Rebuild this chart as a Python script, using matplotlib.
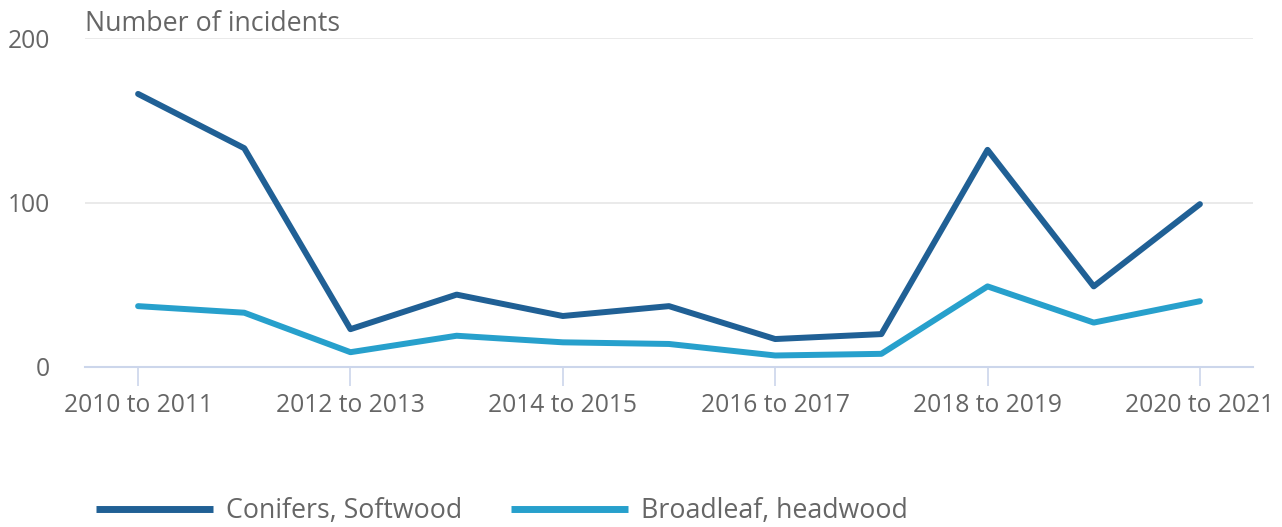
import matplotlib
matplotlib.use("Agg")
import matplotlib.pyplot as plt

plt.rcParams['font.family'] = ['Open Sans', 'DejaVu Sans']

years = ["2010 to 2011", "2011 to 2012", "2012 to 2013", "2013 to 2014",
         "2014 to 2015", "2015 to 2016", "2016 to 2017", "2017 to 2018",
         "2018 to 2019", "2019 to 2020", "2020 to 2021"]
conifers = [166, 133, 23, 44, 31, 37, 17, 20, 132, 49, 99]
broadleaf = [37, 33, 9, 19, 15, 14, 7, 8, 49, 27, 40]

text_col = '#666666'
fig = plt.figure(figsize=(12.82, 5.27), dpi=100)
ax = fig.add_axes([85/1282, 1-367/527, (1253-85)/1282, (367-38)/527])

x = list(range(len(years)))
ax.plot(x, conifers, color='#206095', lw=4.3, solid_capstyle='round',
        solid_joinstyle='round', label='Conifers, Softwood', zorder=3)
ax.plot(x, broadleaf, color='#27a0cc', lw=4.3, solid_capstyle='round',
        solid_joinstyle='round', label='Broadleaf, headwood', zorder=3)

ax.set_xlim(-0.5, len(years) - 0.5)
ax.set_ylim(0, 200)
ax.set_yticks([0, 100, 200])
ax.set_xticks(x[::2])
ax.set_xticklabels(years[::2])

for s in ['top', 'right', 'left']:
    ax.spines[s].set_visible(False)
ax.spines['bottom'].set_color('#ccd6eb')
ax.spines['bottom'].set_linewidth(1.5)
ax.grid(axis='y', color='#e6e6e6', lw=1.2)
ax.set_axisbelow(True)

ax.tick_params(axis='y', length=0, pad=25, labelsize=17.7, labelcolor=text_col)
ax.tick_params(axis='x', direction='out', length=14, width=1.2, color='#ccd6eb',
               pad=5, labelsize=17.7, labelcolor=text_col)

fig.text(85/1282, 1-24/527, 'Number of incidents', fontsize=19.3, color=text_col,
         ha='left', va='center')

leg = fig.legend(loc='center left', bbox_to_anchor=(85/1282, 1-511/527), ncol=2,
                 frameon=False, fontsize=19.3, handlelength=4.37, handletextpad=0.5,
                 columnspacing=1.8, borderaxespad=0)
for t in leg.get_texts():
    t.set_color(text_col)
for h in leg.get_lines():
    h.set_linewidth(5)
    h.set_solid_capstyle('butt')

fig.savefig('out.png', dpi=100)
